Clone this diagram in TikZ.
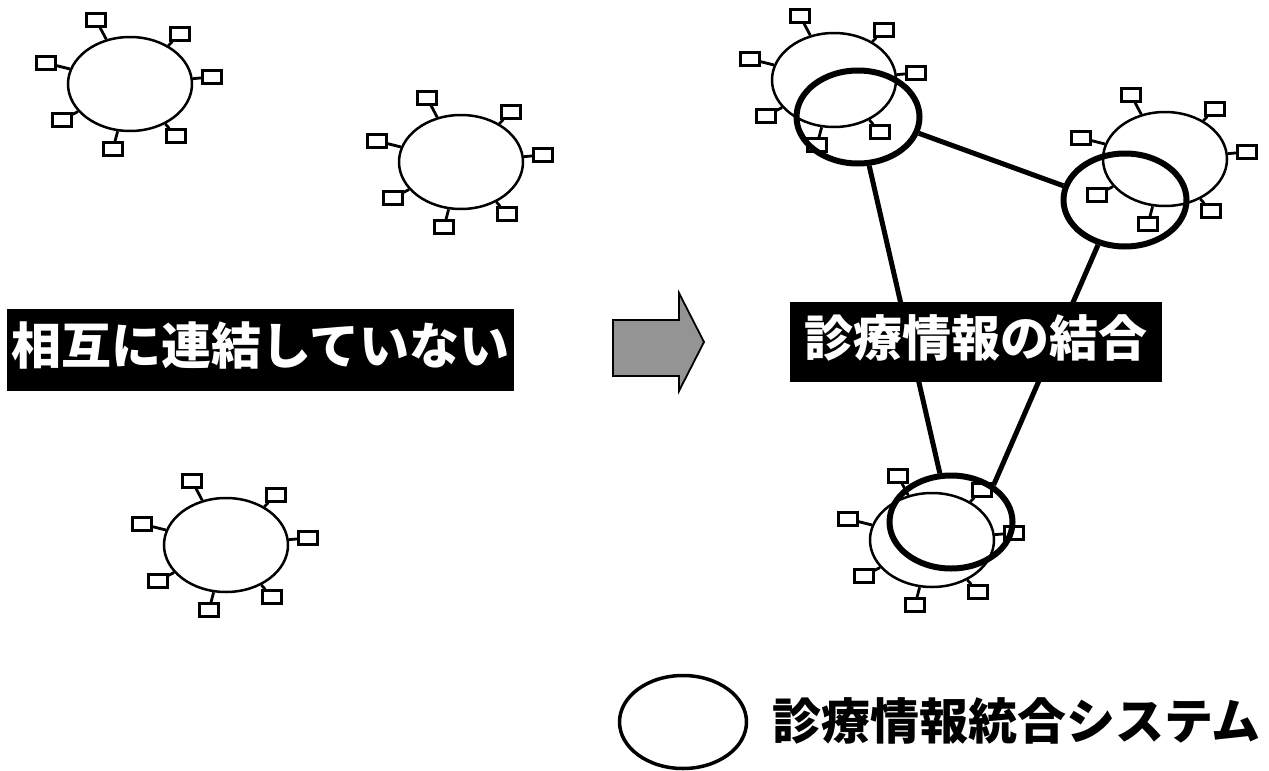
\documentclass[tikz,border=0pt]{standalone}
\usepackage{fontspec}
\newfontfamily\cjk{Noto Sans CJK JP}
\usetikzlibrary{shapes, arrows, positioning}
\usetikzlibrary{shapes.geometric}

\begin{document}
\begin{tikzpicture}[x=1pt, y=-1pt]
            \tikzstyle{ring}=[draw, ellipse, line width=2.5pt, inner sep=0pt, minimum width=124pt, minimum height=94pt]
            \tikzstyle{bigring}=[draw, ellipse, line width=6pt, inner sep=0pt, minimum width=123pt, minimum height=93pt]
            \tikzstyle{term}=[draw, fill=white, rectangle, line width=2.8pt, inner sep=0pt, minimum width=18.5pt, minimum height=12.5pt]
            \tikzstyle{stub}=[line width=2.8pt]
            \tikzstyle{link}=[line width=5pt]
            \tikzstyle{titlebox}=[fill=black, text=white, inner sep=0pt]
            \useasboundingbox (0,0) rectangle (1269,771);
            % networks with their terminals
            \foreach \nm/\cx/\cy in {netA/130/84, netB/461/162, netC/226/545, hubA/834/80, hubB/1165/159, hubC/932/540}{
                \node[ring] (\nm) at (\cx,\cy) {};
                \foreach \dx/\dy [count=\k] in {-34/-64, 50/-50, 82/-7, -84/-21, -68/36, -17/65, 46/52}{
                    \node[term] (\nm-\k) at (\cx+\dx,\cy+\dy) {};
                    \draw[stub] (\nm-\k) -- (\nm);
                }
            }
            % integration systems
            \node[bigring] (mergeA) at (858,117) {};
            \node[bigring] (mergeB) at (1125,200) {};
            \node[bigring] (mergeC) at (951,522) {};
            \draw[link] (mergeA.345) -- (mergeB.167);
            \draw[link] (mergeA) -- (mergeC);
            \draw[link] (mergeB.239) -- (mergeC.41);
            % arrow
            \draw[line width=1.8pt, fill=black!42] (613,320) -- (679,320) -- (679,293) -- (704,342) -- (679,391) -- (679,376) -- (613,376) -- cycle;
            % labels
            \node[titlebox, minimum width=507pt, text height=55pt, text depth=27pt, font=\cjk\bfseries\fontsize{50}{50}\selectfont] (nolink) at (260.5,350) {相互に連結していない};
            \node[titlebox, minimum width=372pt, text height=54pt, text depth=26pt, font=\cjk\bfseries\fontsize{49}{49}\selectfont] (joined) at (976,342) {診療情報の結合};
            % legend
            \node[draw, ellipse, line width=3.5pt, inner sep=0pt, minimum width=127pt, minimum height=93pt] (legring) at (683,722) {};
            \node[anchor=west, inner sep=0pt, font=\cjk\bfseries\fontsize{49}{49}\selectfont] (legtext) at (772,721) {診療情報統合システム};
\end{tikzpicture}
\end{document}
